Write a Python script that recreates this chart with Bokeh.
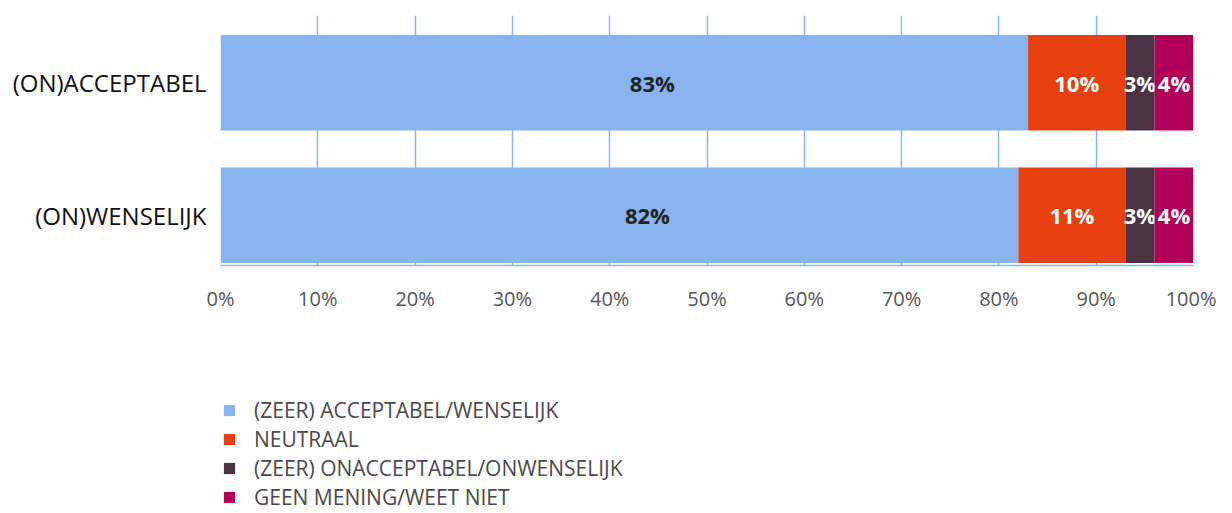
from bokeh.plotting import figure
from bokeh.layouts import column
from bokeh.models import ColumnDataSource, Legend, LegendItem, PrintfTickFormatter, FixedTicker, Range1d
from bokeh.core.properties import value
from bokeh.embed import file_html
from bokeh.resources import INLINE

# ---- data ----
categories = ["(ON)ACCEPTABEL", "(ON)WENSELIJK"]
series_names = ["(ZEER) ACCEPTABEL/WENSELIJK", "NEUTRAAL",
                "(ZEER) ONACCEPTABEL/ONWENSELIJK", "GEEN MENING/WEET NIET"]
acceptabel = [83, 82]
neutraal = [10, 11]
onacceptabel = [3, 3]
geen_mening = [4, 4]
x_ticks = [0, 10, 20, 30, 40, 50, 60, 70, 80, 90, 100]

series_values = [acceptabel, neutraal, onacceptabel, geen_mening]
colors = ["#87B4EE", "#E64011", "#4A3444", "#B0005A"]
label_colors = ["#222222", "#ffffff", "#ffffff", "#ffffff"]
label_offsets = [28, 0, 0, 0]

ypos = [len(categories) - 1 - i for i in range(len(categories))]

p = figure(width=1216, height=320, x_range=Range1d(0, 100), y_range=Range1d(-0.379, 1.508),
           output_backend="svg", toolbar_location=None,
           min_border_left=220, min_border_right=23, min_border_top=15, min_border_bottom=55)

p.outline_line_color = None
p.background_fill_color = "white"
p.ygrid.grid_line_color = None
p.xgrid.ticker = FixedTicker(ticks=x_ticks)
p.xgrid.grid_line_color = "#8AB4EE"
p.xgrid.grid_line_width = 1.5

p.xaxis.ticker = FixedTicker(ticks=x_ticks)
p.xaxis.formatter = PrintfTickFormatter(format="%d%%")
p.xaxis.axis_line_color = "#8AB4EE"
p.xaxis.axis_line_width = 1.5
p.xaxis.major_tick_line_color = None
p.xaxis.minor_tick_line_color = None
p.xaxis.major_label_standoff = 13
p.xaxis.major_label_text_font = "Open Sans"
p.xaxis.major_label_text_font_size = "20px"
p.xaxis.major_label_text_color = "#555555"

p.yaxis.ticker = FixedTicker(ticks=ypos)
p.yaxis.major_label_overrides = {y: c for y, c in zip(ypos, categories)}
p.yaxis.axis_line_color = None
p.yaxis.major_tick_line_color = None
p.yaxis.minor_tick_line_color = None
p.yaxis.major_label_standoff = 8
p.yaxis.major_label_text_font = "Open Sans"
p.yaxis.major_label_text_font_size = "24px"
p.yaxis.major_label_text_color = "#111111"

sources = []
left = [0] * len(categories)
for vals, col, lc, off in zip(series_values, colors, label_colors, label_offsets):
    right = [l + v for l, v in zip(left, vals)]
    src = ColumnDataSource(dict(y=ypos, left=left, right=right,
                                mid=[(l + r) / 2 for l, r in zip(left, right)],
                                label=[f"{v}%" for v in vals]))
    sources.append(src)
    p.hbar(y="y", left="left", right="right", height=0.72, source=src,
           fill_color=col, line_color=None)
    p.text(x="mid", y="y", text="label", source=src, x_offset=off,
           text_align="center", text_baseline="middle",
           text_font=value("Open Sans"), text_font_style="bold",
           text_font_size="22px", text_color=lc)
    left = right

# ---- legend panel (bars drawn outside its visible range, only the legend shows) ----
p2 = figure(width=1216, height=191, x_range=Range1d(1000, 1001), y_range=Range1d(1000, 1001),
            output_backend="svg", toolbar_location=None,
            min_border_left=0, min_border_right=0, min_border_top=0, min_border_bottom=0)
p2.axis.visible = False
p2.grid.visible = False
p2.outline_line_color = None

leg_renderers = []
for col, src in zip(colors, sources):
    r = p2.hbar(y="y", left="left", right="right", height=0.72, source=src,
                fill_color=col, line_color=None)
    leg_renderers.append(r)

legend = Legend(items=[LegendItem(label=n, renderers=[r]) for n, r in zip(series_names, leg_renderers)],
                location=(2, 0), orientation="vertical")
legend.border_line_color = None
legend.background_fill_alpha = 0
legend.padding = 0
legend.margin = 0
legend.glyph_width = 14
legend.glyph_height = 14
legend.label_height = 18
legend.spacing = 1
legend.label_standoff = 18
legend.label_text_font = "Open Sans"
legend.label_text_font_size = "21px"
legend.label_text_color = "#4a4a4a"
legend.label_text_baseline = "middle"
p2.add_layout(legend)

layout = column(p, p2, spacing=0)
open("out.html", "w").write(file_html(layout, INLINE))
